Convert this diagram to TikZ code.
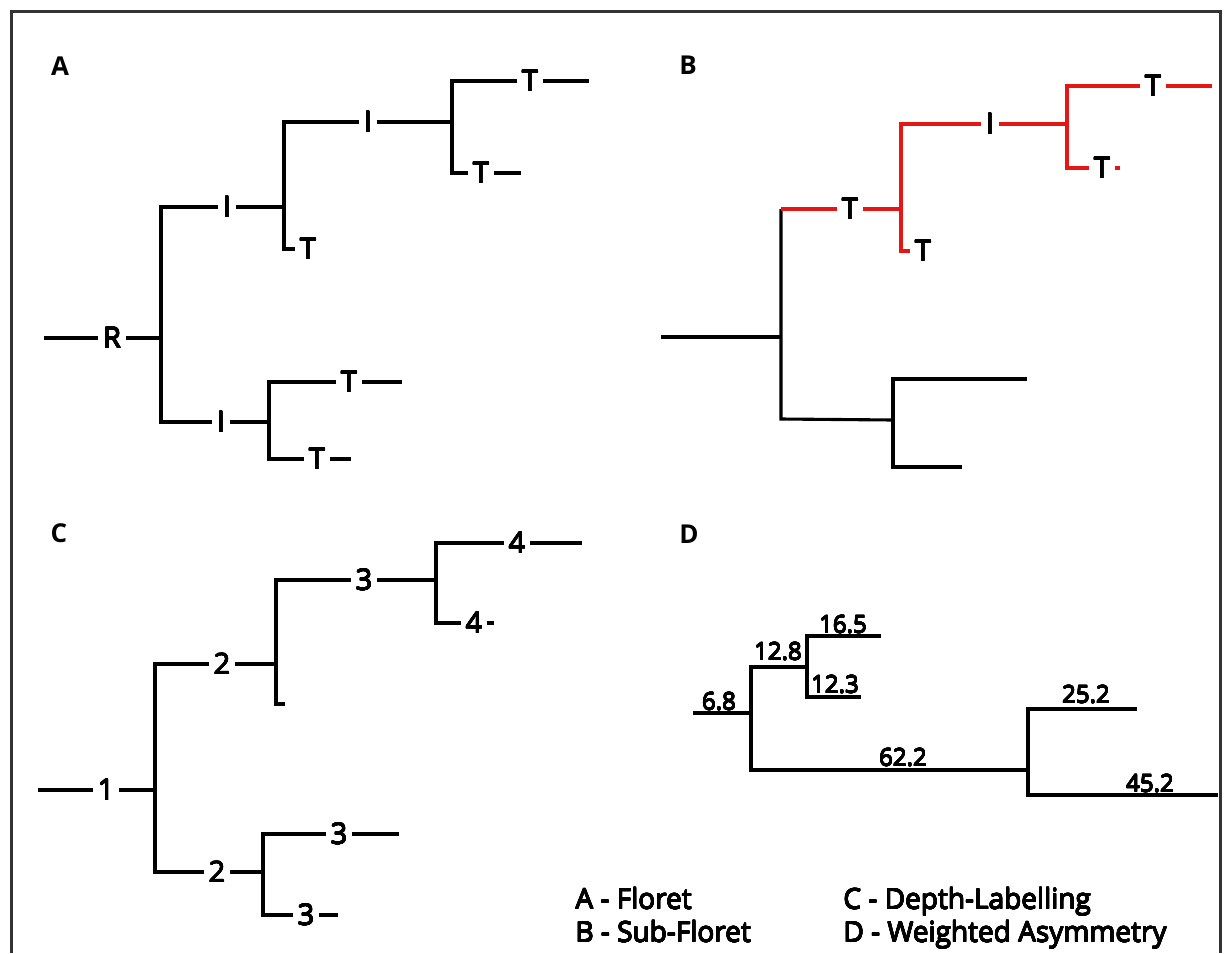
\documentclass[tikz,border=0pt]{standalone}
\usepackage{fontspec}
\setmainfont{Open Sans}
\usepackage[copies]{contour}
\contourlength{0.35pt}
\contournumber{16}
\newcommand{\hv}[1]{\contour{black}{#1}}
\begin{document}
\begin{tikzpicture}[x=1pt,y=-1pt,line width=3.1pt,
  lab/.style={inner xsep=3pt,inner ysep=0pt,font=\fontsize{29}{34}\selectfont},
  num/.style={inner sep=0pt,anchor=base,font=\fontsize{24}{28}\selectfont},
  panel/.style={inner sep=0pt,font=\fontsize{26}{30}\selectfont\bfseries},
  legend/.style={inner sep=0pt,anchor=base west,font=\fontsize{28}{32}\selectfont},
  hl/.style={draw=hlred}]
\definecolor{hlred}{RGB}{228,22,22}
\definecolor{frame}{RGB}{51,51,51}
\useasboundingbox (0,0) rectangle (1225,953);
\draw[line width=2.4pt,draw=frame] (11.5,953) -- (11.5,11.5) -- (1220.5,11.5) -- (1220.5,953);

% ---------- Panel A ----------
\node[panel] (pA) at (60,66) {A};
\coordinate (a0) at (44,338);
\coordinate (a1) at (161,338);
\coordinate (a1t) at (161,207);
\coordinate (a1b) at (161,422);
\coordinate (a2) at (284,207);
\coordinate (a2t) at (284,122);
\coordinate (a2b) at (284,249);
\coordinate (a3) at (452,122);
\coordinate (a3t) at (452,81);
\coordinate (a3b) at (452,173);
\coordinate (aT2e) at (589,81);
\coordinate (aT3e) at (521,173);
\coordinate (a5) at (269,422);
\coordinate (a5t) at (269,382);
\coordinate (a5b) at (269,459);
\coordinate (aT4e) at (402,382);
\coordinate (aT5e) at (351,459);
\node[lab] (aR) at (112,338) {\hv{R}};
\node[lab] (aI1) at (227,207) {\hv{I}};
\node[lab] (aT1) at (308,249) {\hv{T}};
\node[lab] (aI2) at (368,122) {\hv{I}};
\node[lab] (aT2) at (530,81) {\hv{T}};
\node[lab] (aT3) at (481,173) {\hv{T}};
\node[lab] (aI3) at (221,422) {\hv{I}};
\node[lab] (aT4) at (349,382) {\hv{T}};
\node[lab] (aT5) at (317,459) {\hv{T}};
\draw (a0) -- (aR);
\draw (aR) -- (a1);
\draw (aI1) -- (a1t) -- (a1b) -- (aI3);
\draw (aI1) -- (a2);
\draw (aI2) -- (a2t) -- (a2b) -- (aT1);
\draw (aI2) -- (a3);
\draw (aT2) -- (a3t) -- (a3b) -- (aT3);
\draw (aT2) -- (aT2e);
\draw (aT3) -- (aT3e);
\draw (aI3) -- (a5);
\draw (aT4) -- (a5t) -- (a5b) -- (aT5);
\draw (aT4) -- (aT4e);
\draw (aT5) -- (aT5e);

% ---------- Panel B ----------
\node[panel] (pB) at (688,65) {B};
\coordinate (b0) at (661,337);
\coordinate (b1) at (781,337);
\coordinate (b1t) at (781,209);
\coordinate (b1b) at (781,419);
\coordinate (b2) at (901,209);
\coordinate (b2t) at (901,124);
\coordinate (b2b) at (901,251);
\coordinate (b3) at (1067,124);
\coordinate (b3t) at (1067,86);
\coordinate (b3b) at (1067,168);
\coordinate (bT3e) at (1212,86);
\coordinate (bT4e) at (1120,168);
\coordinate (b4) at (893,420);
\coordinate (b4t) at (893,379);
\coordinate (b4b) at (893,467);
\coordinate (b4e1) at (1027,379);
\coordinate (b4e2) at (962,467);
\node[lab] (bT1) at (850,209) {\hv{T}};
\node[lab] (bT2) at (923,251) {\hv{T}};
\node[lab] (bI) at (990,124) {\hv{I}};
\node[lab] (bT3) at (1153,86) {\hv{T}};
\node[lab] (bT4) at (1102,168) {\hv{T}};
\draw (b0) -- (b1);
\draw (b1t) -- (b1b) -- (b4);
\draw (b4e1) -- (b4t) -- (b4b) -- (b4e2);
\draw[hl] (b1t) -- (bT1);
\draw[hl] (bT1) -- (b2);
\draw[hl] (bI) -- (b2t) -- (b2b) -- (bT2);
\draw[hl] (bI) -- (b3);
\draw[hl] (bT3) -- (b3t) -- (b3b) -- (bT4);
\draw[hl] (bT3) -- (bT3e);
\draw[hl] (bT4) -- (bT4e);

% ---------- Panel C ----------
\node[panel] (pC) at (59,533) {C};
\coordinate (c0) at (38,790);
\coordinate (cj1) at (155,790);
\coordinate (cj1t) at (155,664);
\coordinate (cj1b) at (155,872);
\coordinate (cj2) at (276,664);
\coordinate (cj2t) at (276,580);
\coordinate (cj2b) at (276,704);
\coordinate (cst) at (285,704);
\coordinate (cj3) at (436,580);
\coordinate (cj3t) at (436,543);
\coordinate (cj3b) at (436,623);
\coordinate (c4e) at (582,543);
\coordinate (c4be) at (494,623);
\coordinate (cj4) at (263,872);
\coordinate (cj4t) at (263,834);
\coordinate (cj4b) at (263,915);
\coordinate (c3e) at (399,834);
\coordinate (c3be) at (338,915);
\node[lab] (c1) at (106,790) {\hv{1}};
\node[lab] (c2a) at (222,664) {\hv{2}};
\node[lab] (c3a) at (364,580) {\hv{3}};
\node[lab] (c4a) at (517,543) {\hv{4}};
\node[lab] (c4b) at (474,623) {\hv{4}};
\node[lab] (c2b) at (217,872) {\hv{2}};
\node[lab] (c3b) at (339,834) {\hv{3}};
\node[lab] (c3c) at (306,915) {\hv{3}};
\draw (c0) -- (c1);
\draw (c1) -- (cj1);
\draw (c2a) -- (cj1t) -- (cj1b) -- (c2b);
\draw (c2a) -- (cj2);
\draw (c3a) -- (cj2t) -- (cj2b) -- (cst);
\draw (c3a) -- (cj3);
\draw (c4a) -- (cj3t) -- (cj3b) -- (c4b);
\draw (c4a) -- (c4e);
\draw (c4b) -- (c4be);
\draw (c2b) -- (cj4);
\draw (c3b) -- (cj4t) -- (cj4b) -- (c3c);
\draw (c3b) -- (c3e);
\draw (c3c) -- (c3be);

% ---------- Panel D ----------
\node[panel] (pD) at (689,534) {D};
\coordinate (d0) at (693,713);
\coordinate (dj1) at (751,713);
\coordinate (dj1t) at (751,667);
\coordinate (dj1b) at (751,770);
\coordinate (dj2) at (807,667);
\coordinate (dj2t) at (807,636);
\coordinate (dj2b) at (807,697);
\coordinate (d165) at (881,636);
\coordinate (d123) at (861,697);
\coordinate (dj3) at (1028,770);
\coordinate (dj3t) at (1028,709);
\coordinate (dj3b) at (1028,795);
\coordinate (d252) at (1137,709);
\coordinate (d452) at (1218,795);
\draw (d0) -- (dj1);
\draw (dj2) -- (dj1t) -- (dj1b) -- (dj3);
\draw (d165) -- (dj2t) -- (dj2b) -- (d123);
\draw (d252) -- (dj3t) -- (dj3b) -- (d452);
\node[num] (n68) at (719,710) {\hv{6.8}};
\node[num] (n128) at (778,660) {\hv{12.8}};
\node[num] (n165) at (843,633) {\hv{16.5}};
\node[num] (n123) at (835,693) {\hv{12.3}};
\node[num] (n622) at (903,766) {\hv{62.2}};
\node[num] (n252) at (1086,703) {\hv{25.2}};
\node[num] (n452) at (1150,792) {\hv{45.2}};

% ---------- Legend ----------
\node[legend] (lA) at (574,909) {\hv{A - Floret}};
\node[legend] (lB) at (574,942) {\hv{B - Sub-Floret}};
\node[legend] (lC) at (842,909) {\hv{C - Depth-Labelling}};
\node[legend] (lD) at (842,942) {\hv{D - Weighted Asymmetry}};
\end{tikzpicture}
\end{document}
